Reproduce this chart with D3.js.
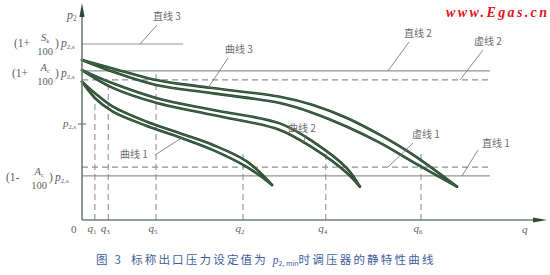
<!DOCTYPE html>
<html>
<head>
<meta charset="utf-8">
<script src="https://cdn.jsdelivr.net/npm/d3@7"></script>
<style>
  body { margin: 0; background: #fff; }
  svg { display: block; }
  .note { font-family: "Noto Sans CJK SC", sans-serif; font-size: 10px; fill: #6b6b6b; }
  .math { font-family: "Liberation Serif", serif; fill: #5e5e5e; }
</style>
</head>
<body>
<div id="chart"></div>
<script>
// Chart Set up
var svgWidth = 550;
var svgHeight = 275;

// ---- data (q and p in relative units 0..100) ----

// horizontal reference lines
var hLineNames = ["直线 3", "直线 2", "虚线 2", "虚线 1", "直线 1"];
var hLineP     = [83.8, 71.0, 66.7, 25.2, 21.0];
var hLineQEnd  = [22.0, 88.7, 88.7, 88.7, 88.7];
var hLineDash  = [false, false, true, true, false];

// vertical dashed flow marks
var qSubs = ["1", "3", "5", "2", "4", "6"];
var qVals = [2.8, 5.7, 16.1, 35.0, 53.0, 73.7];
var qTopP = [56.0, 64.0, 69.5, 32.4, 32.4, 32.4];

// p2,s tick on the p axis
var pNominal = 45.7;

// curves: each one is a pair of lines [q, p]
var curve1Upper = [[0, 65.9], [3.3, 59.5], [6.7, 54.0], [14.1, 46.8], [21.3, 41.3], [28.5, 35.7], [35.9, 27.8], [41.3, 16.7]];
var curve1Lower = [[0, 65.9], [2.8, 58.1], [6.7, 51.6], [14.1, 44.8], [21.3, 39.3], [28.5, 33.3], [35.9, 25.2], [41.3, 16.7]];
var curve2Upper = [[0, 71.4], [6.7, 65.1], [16.3, 58.0], [28.5, 52.4], [43.0, 46.0], [50.2, 37.3], [57.6, 24.6], [60.4, 15.9]];
var curve2Lower = [[0, 71.4], [6.7, 62.9], [16.3, 55.7], [28.5, 50.0], [43.0, 42.9], [50.2, 34.3], [57.6, 22.4], [60.4, 15.9]];
var curve3Upper = [[0, 76.2], [6.7, 72.2], [16.1, 66.7], [27.8, 63.0], [43.0, 58.7], [50.2, 54.8], [57.6, 48.6], [64.8, 40.5], [72.0, 31.0], [81.5, 15.9]];
var curve3Lower = [[0, 76.2], [6.7, 70.6], [16.1, 64.3], [28.5, 60.3], [43.0, 55.7], [50.2, 51.0], [57.6, 44.4], [64.8, 36.7], [72.0, 27.6], [81.5, 15.9]];

var curveNames = ["曲线 1", "曲线 2", "曲线 3"];

// Create an SVG wrapper
var svg = d3.select("#chart")
  .append("svg")
  .attr("width", svgWidth)
  .attr("height", svgHeight);

// scales
var xScale = d3.scaleLinear().domain([0, 100]).range([82, 542]);
var yScale = d3.scaleLinear().domain([0, 100]).range([220, 10]);

var axisColor = "#6f7f72";
var refColor = "#8a9a8c";
var dashColor = "#8c9296";
var curveDark = "#26432d";
var curveLight = "#4b7a52";

// horizontal lines
svg.selectAll(".hline")
  .data(hLineP)
  .enter()
  .append("line")
  .attr("class", "hline")
  .attr("x1", xScale(0))
  .attr("x2", (d, i) => xScale(hLineQEnd[i]))
  .attr("y1", d => yScale(d))
  .attr("y2", d => yScale(d))
  .attr("stroke", (d, i) => hLineDash[i] ? dashColor : refColor)
  .attr("stroke-width", 1.2)
  .attr("stroke-dasharray", (d, i) => hLineDash[i] ? "6,4" : null);

// vertical dashed lines
svg.selectAll(".vline")
  .data(qVals)
  .enter()
  .append("line")
  .attr("class", "vline")
  .attr("x1", d => xScale(d))
  .attr("x2", d => xScale(d))
  .attr("y1", yScale(0))
  .attr("y2", (d, i) => yScale(qTopP[i]))
  .attr("stroke", dashColor)
  .attr("stroke-width", 1.1)
  .attr("stroke-dasharray", "6,4");

// curves
var line = d3.line()
  .x(d => xScale(d[0]))
  .y(d => yScale(d[1]))
  .curve(d3.curveCatmullRom.alpha(0.5));

var allCurves = [curve1Upper, curve1Lower, curve2Upper, curve2Lower, curve3Upper, curve3Lower];
svg.selectAll(".curveDark")
  .data(allCurves)
  .enter()
  .append("path")
  .attr("d", line)
  .attr("fill", "none")
  .attr("stroke", curveDark)
  .attr("stroke-width", 2.6)
  .attr("stroke-linecap", "round");
svg.selectAll(".curveLight")
  .data(allCurves)
  .enter()
  .append("path")
  .attr("d", line)
  .attr("fill", "none")
  .attr("stroke", curveLight)
  .attr("stroke-width", 0.8);

// axes
svg.append("line")
  .attr("x1", xScale(0)).attr("x2", xScale(0))
  .attr("y1", yScale(0)).attr("y2", 12)
  .attr("stroke", axisColor).attr("stroke-width", 1.6);
svg.append("line")
  .attr("x1", xScale(0)).attr("x2", 538)
  .attr("y1", yScale(0)).attr("y2", yScale(0))
  .attr("stroke", axisColor).attr("stroke-width", 1.6);
// arrows
svg.append("path")
  .attr("d", `M${xScale(0)},3 L${xScale(0) + 2.6},17 L${xScale(0) - 2.6},17 Z`)
  .attr("fill", "#2f4a35");
svg.append("path")
  .attr("d", `M547,${yScale(0)} L533,${yScale(0) - 2.6} L533,${yScale(0) + 2.6} Z`)
  .attr("fill", "#2f4a35");
// p2,s tick
svg.append("line")
  .attr("x1", xScale(0) - 4).attr("x2", xScale(0) + 4)
  .attr("y1", yScale(pNominal)).attr("y2", yScale(pNominal))
  .attr("stroke", axisColor).attr("stroke-width", 1.2);

// axis labels
function pSub(x, y, sub, size) {
  var t = svg.append("text").attr("class", "math").attr("x", x).attr("y", y)
    .style("font-size", size + "px");
  t.append("tspan").style("font-style", "italic").text("p");
  t.append("tspan").attr("dy", 2).style("font-size", (size * 0.6) + "px").text(sub);
  return t;
}
pSub(67, 19, "2", 12);
pSub(63, 127, "2,s", 11);

svg.append("text").attr("class", "math")
  .attr("x", 71).attr("y", 233)
  .style("font-size", "11px").text("0");

// q labels
qVals.forEach(function(q, i) {
  var t = svg.append("text").attr("class", "math")
    .attr("x", xScale(q) - 3).attr("y", 232)
    .attr("text-anchor", "middle")
    .style("font-size", "11px");
  t.append("tspan").style("font-style", "italic").text("q");
  t.append("tspan").attr("dy", 2).style("font-size", "7px").text(qSubs[i]);
});
svg.append("text").attr("class", "math")
  .attr("x", 522).attr("y", 233)
  .style("font-size", "11px").style("font-style", "italic").text("q");

// fraction labels on the left
function fracLabel(base, pre, num, numSub, xPre, xFrac) {
  svg.append("text").attr("class", "math")
    .attr("x", xPre).attr("y", base)
    .style("font-size", "11.5px").text(pre);
  var n = svg.append("text").attr("class", "math")
    .attr("x", xFrac).attr("y", base - 6)
    .attr("text-anchor", "middle").style("font-size", "10.5px");
  n.append("tspan").style("font-style", "italic").text(num);
  n.append("tspan").attr("dy", 2).style("font-size", "6px").text(numSub);
  svg.append("text").attr("class", "math")
    .attr("x", xFrac).attr("y", base + 8)
    .attr("text-anchor", "middle").style("font-size", "10.5px").text("100");
  svg.append("text").attr("class", "math")
    .attr("x", xFrac + 10).attr("y", base)
    .style("font-size", "11.5px").text(")");
  pSub(xFrac + 16, base, "2,s", 11.5);
}
fracLabel(47, "(1+", "S", "k", 14, 45);
fracLabel(77, "(1+", "A", "c", 12, 45);
fracLabel(181, "(1-", "A", "c", 6, 39);

// annotations with leader lines
var notes = [
  { text: hLineNames[0], tx: 153, ty: 20, l: [157, 25, 140, yScale(hLineP[0])] },
  { text: hLineNames[1], tx: 404, ty: 37, l: [409, 42, 388, yScale(hLineP[1])] },
  { text: hLineNames[2], tx: 474, ty: 45, l: [483, 50, 460, yScale(hLineP[2])] },
  { text: hLineNames[3], tx: 412, ty: 138, l: [413, 143, 388, yScale(hLineP[3])] },
  { text: hLineNames[4], tx: 482, ty: 147, l: [478, 150, 462, yScale(hLineP[4])] },
  { text: curveNames[0], tx: 120, ty: 158, l: [155, 155, 183, 137] },
  { text: curveNames[1], tx: 288, ty: 132, l: [306, 135, 303, 144] },
  { text: curveNames[2], tx: 225, ty: 53, l: [228, 58, 208, 88] }
];
notes.forEach(function(n) {
  svg.append("text").attr("class", "note")
    .attr("x", n.tx).attr("y", n.ty).text(n.text);
  svg.append("line")
    .attr("x1", n.l[0]).attr("y1", n.l[1])
    .attr("x2", n.l[2]).attr("y2", n.l[3])
    .attr("stroke", "#6b6b6b").attr("stroke-width", 0.8);
});

// watermark
svg.append("text")
  .attr("x", 446).attr("y", 17)
  .attr("textLength", 101)
  .style("font-family", "'Liberation Serif', serif")
  .style("font-weight", "bold")
  .style("font-style", "italic")
  .style("font-size", "14px")
  .attr("fill", "#e3131b")
  .text("www.Egas.cn");

// caption
var cap = svg.append("text")
  .attr("x", 96).attr("y", 264)
  .style("font-family", "'Noto Sans CJK SC', sans-serif")
  .style("font-size", "11.5px")
  .style("letter-spacing", "2.2px")
  .attr("fill", "#3d5d9c");
cap.append("tspan").text("图 3");
cap.append("tspan").attr("x", 131).text("标称出口压力设定值为 ");
cap.append("tspan").style("font-family", "'Liberation Serif', serif").style("font-style", "italic").style("letter-spacing", "0px").text("p");
cap.append("tspan").attr("dy", 2).style("font-size", "7px").style("letter-spacing", "0px").text("2, min");
cap.append("tspan").attr("dy", -2).text("时调压器的静特性曲线");
</script>
</body>
</html>
